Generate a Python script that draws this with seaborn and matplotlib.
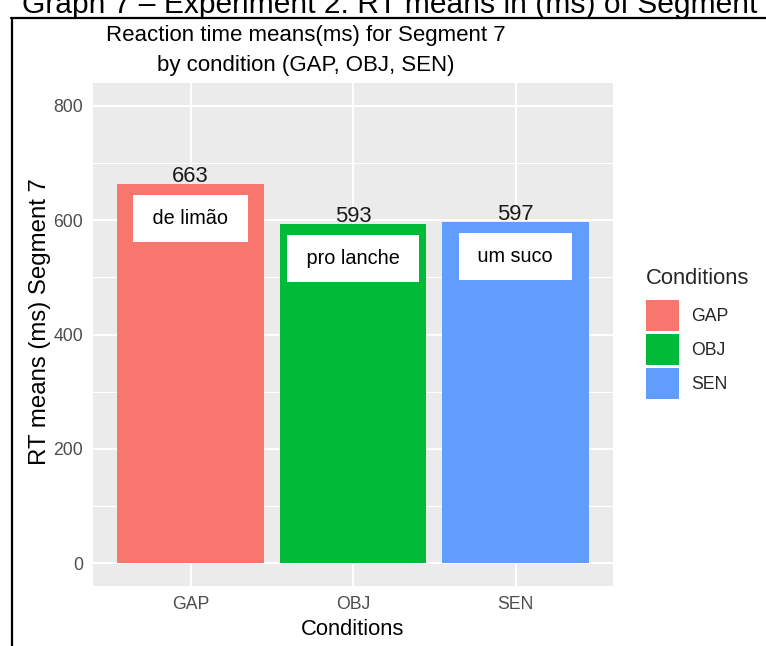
import matplotlib
matplotlib.use("Agg")
import matplotlib.pyplot as plt
from matplotlib.lines import Line2D
from matplotlib.ticker import FixedLocator
import pandas as pd
import seaborn as sns

# Mean reaction times (ms) for segment 7, per condition
conditions = ["GAP", "OBJ", "SEN"]
rt_means = [663, 593, 597]
segment_words = ["de limão", "pro lanche", "um suco"]
bar_colors = ["#F8766D", "#00BA38", "#619CFF"]
y_ticks = [0, 200, 400, 600, 800]
y_minor = [100, 300, 500, 700]

df = pd.DataFrame({"Conditions": conditions, "RT": rt_means})

sns.set_style("white")
plt.rcParams["font.family"] = ["Liberation Sans", "DejaVu Sans"]

W, H = 766, 646
fig = plt.figure(figsize=(W / 100, H / 100), dpi=100)
fig.patch.set_facecolor("white")


def fx(px):
    return px / W


def fy(py):
    return 1 - py / H


ax = fig.add_axes([fx(93), fy(586), fx(613) - fx(93), fy(83) - fy(586)])
sns.barplot(data=df, x="Conditions", y="RT", hue="Conditions",
            palette=bar_colors, width=0.9, dodge=False, saturation=1,
            errorbar=None, legend=True, linewidth=0, ax=ax)

ax.set_xlim(-0.6, 2.6)
ax.set_ylim(-40, 840)
ax.set_facecolor("#EBEBEB")
for s in ax.spines.values():
    s.set_visible(False)

ax.yaxis.set_major_locator(FixedLocator(y_ticks))
ax.yaxis.set_minor_locator(FixedLocator(y_minor))
ax.set_axisbelow(True)
ax.grid(which="major", color="white", lw=1.5)
ax.grid(which="minor", axis="y", color="white", lw=0.75)
ax.tick_params(axis="both", which="major", length=4, width=1.1,
               color="#333333", labelsize=12.7, labelcolor="#4D4D4D", pad=3)
ax.tick_params(axis="y", which="minor", length=0)

ax.set_xlabel("Conditions", fontsize=15.8, color="black")
ax.xaxis.set_label_coords(0.5, -0.066)
ax.set_ylabel("RT means (ms) Segment 7", fontsize=17.3, color="black", va="center")
ax.yaxis.set_label_coords(-0.102, 0.526)

# Two-line chart title
fig.text(fx(306), fy(25), "Reaction time means(ms) for Segment 7\nby condition (GAP, OBJ, SEN)",
         fontsize=16, color="black", ha="center", va="top",
         multialignment="center", linespacing=1.55)

# Value labels on top of each bar and the word labels inside
for i, (v, w) in enumerate(zip(rt_means, segment_words)):
    ax.annotate(f"{v}", (i, v), xytext=(0, 1.5), textcoords="offset points",
                ha="center", va="baseline", fontsize=15.8, color="#1A1A1A")
    ax.text(i, v - 60, f" {w} ", ha="center", va="center", fontsize=14.3,
            color="black",
            bbox=dict(boxstyle="square,pad=0.7", fc="white", ec="none"))

leg = ax.get_legend()
handles = leg.legend_handles
labels = [t.get_text() for t in leg.get_texts()]
leg.remove()
leg = ax.legend(handles, labels, title="Conditions", loc="upper left",
                bbox_to_anchor=(fx(646), fy(268)), bbox_transform=fig.transFigure,
                frameon=False, fontsize=12.7, title_fontsize=15.8,
                handlelength=1.875, handleheight=2.33, labelspacing=0.17,
                handletextpad=0.68, borderaxespad=0, borderpad=0, alignment="left")
leg._legend_box.sep = 8

# Caption line and frame above the chart
fig.text(fx(22), fy(13), "Graph 7 – Experiment 2: RT means in (ms) of Segment 7",
         fontsize=21.6, va="baseline", ha="left", color="black")
fig.add_artist(Line2D([fx(11), fx(766)], [fy(18), fy(18)], color="black",
                      lw=1.6, transform=fig.transFigure))
fig.add_artist(Line2D([fx(11.5), fx(11.5)], [fy(18), fy(646)], color="black",
                      lw=1.6, transform=fig.transFigure))

fig.savefig("out.png", dpi=100, facecolor="white")
